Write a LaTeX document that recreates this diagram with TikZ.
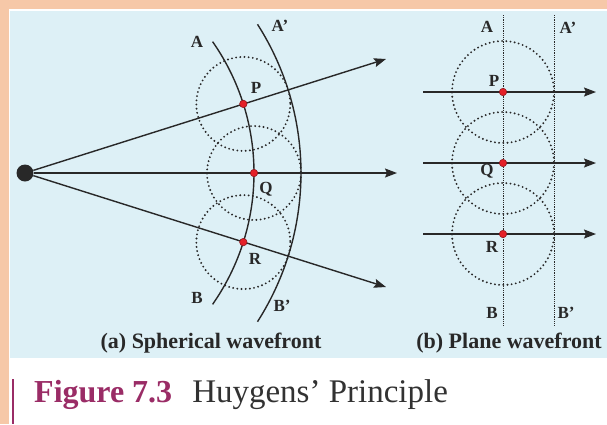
\documentclass[tikz,border=0pt]{standalone}
\usepackage{fontspec}
\setmainfont{Liberation Serif}
\usetikzlibrary{arrows.meta}
\definecolor{peach}{RGB}{246,200,168}
\definecolor{panel}{RGB}{221,240,246}
\definecolor{ink}{RGB}{40,40,40}
\definecolor{dotred}{RGB}{228,32,40}
\definecolor{capurple}{RGB}{154,44,102}
\definecolor{capgray}{RGB}{50,50,50}
\begin{document}
\begin{tikzpicture}[x=1pt,y=-1pt,
  wave/.style={ink, line width=1.4pt},
  ray/.style={ink, line width=1.4pt, -{Stealth[length=12pt,width=9pt,inset=2pt]}},
  wavelet/.style={ink, line width=2.1pt, line cap=round, dash pattern=on 0pt off 4.2pt},
  plane/.style={ink, line width=0.9pt, dash pattern=on 1.2pt off 1pt},
  pt/.style={circle, fill=dotred, draw=dotred!60!black, line width=0.5pt, inner sep=0pt, minimum size=7.5pt},
  lbl/.style={font=\bfseries\fontsize{17}{17}\selectfont, text=ink, inner sep=0pt},
  subcap/.style={font=\bfseries\fontsize{22}{22}\selectfont, text=ink, inner sep=0pt}]
\useasboundingbox (0,0) rectangle (607,424);
\fill[peach] (0,0) rectangle (607,424);
\fill[white] (8.5,9) rectangle (607,424);
\fill[panel] (9.5,10.5) rectangle (607,358);
\fill[capurple] (12,379) rectangle (14,424);

% ---------- (a) spherical wavefront ----------
\coordinate (O) at (25,173);
\coordinate (p) at (243.3,103.9);
\coordinate (q) at (254,173);
\coordinate (r) at (243.3,242.1);
\coordinate (tipU) at (386,59);
\coordinate (tipM) at (397,173);
\coordinate (tipL) at (386,287);

\draw[wavelet] (p) circle[radius=47];
\draw[wavelet] (q) circle[radius=47];
\draw[wavelet] (r) circle[radius=47];

\draw[wave] (O) ++(-35:229) arc[start angle=-35, end angle=35, radius=229];
\draw[wave] (O) ++(-32.6:276) arc[start angle=-32.6, end angle=32.6, radius=276];

\node[circle, fill=ink, inner sep=0pt, minimum size=17pt] (S) at (O) {};
\draw[ray] (S) -- (tipU);
\draw[ray] (S) -- (tipM);
\draw[ray] (S) -- (tipL);

\node[pt] (P) at (p) {};
\node[pt] (Q) at (q) {};
\node[pt] (R) at (r) {};

\node[lbl] (lA) at (197,42) {A};
\node[lbl] (lA2) at (280,26) {A'};
\node[lbl] (lP) at (256,88) {P};
\node[lbl] (lQ) at (266,189) {Q};
\node[lbl] (lR) at (255,259) {R};
\node[lbl] (lB) at (197,298) {B};
\node[lbl] (lB2) at (282,306) {B'};

\node[subcap] (capa) at (211,343) {(a) Spherical wavefront};

% ---------- (b) plane wavefront ----------
\coordinate (At) at (503,15);
\coordinate (Ab) at (503,327);
\coordinate (A2t) at (554,15);
\coordinate (A2b) at (554,327);
\coordinate (p2) at (503,92);
\coordinate (q2) at (503,163);
\coordinate (r2) at (503,234);
\coordinate (sP) at (423,92);
\coordinate (sQ) at (423,163);
\coordinate (sR) at (423,234);
\coordinate (eP) at (596,92);
\coordinate (eQ) at (596,163);
\coordinate (eR) at (596,234);

\draw[wavelet] (p2) circle[radius=51];
\draw[wavelet] (q2) circle[radius=51];
\draw[wavelet] (r2) circle[radius=51];

\draw[plane] (At) -- (Ab);
\draw[plane] (A2t) -- (A2b);

\draw[ray] (sP) -- (eP);
\draw[ray] (sQ) -- (eQ);
\draw[ray] (sR) -- (eR);

\node[pt] (P2) at (p2) {};
\node[pt] (Q2) at (q2) {};
\node[pt] (R2) at (r2) {};

\node[lbl] (mA) at (487,27) {A};
\node[lbl] (mA2) at (568,28) {A'};
\node[lbl] (mP) at (494,81) {P};
\node[lbl] (mQ) at (487,171) {Q};
\node[lbl] (mR) at (492,247) {R};
\node[lbl] (mB) at (492,313) {B};
\node[lbl] (mB2) at (566,313) {B'};

\node[subcap] (capb) at (509,343) {(b) Plane wavefront};

% ---------- caption ----------
\node[anchor=base west, inner sep=0pt] (fig) at (34,402)
  {\textcolor{capurple}{\fontsize{32}{32}\selectfont\bfseries Figure 7.3}\hspace{20pt}\textcolor{capgray}{\fontsize{33}{33}\selectfont Huygens’ Principle}};
\end{tikzpicture}
\end{document}
